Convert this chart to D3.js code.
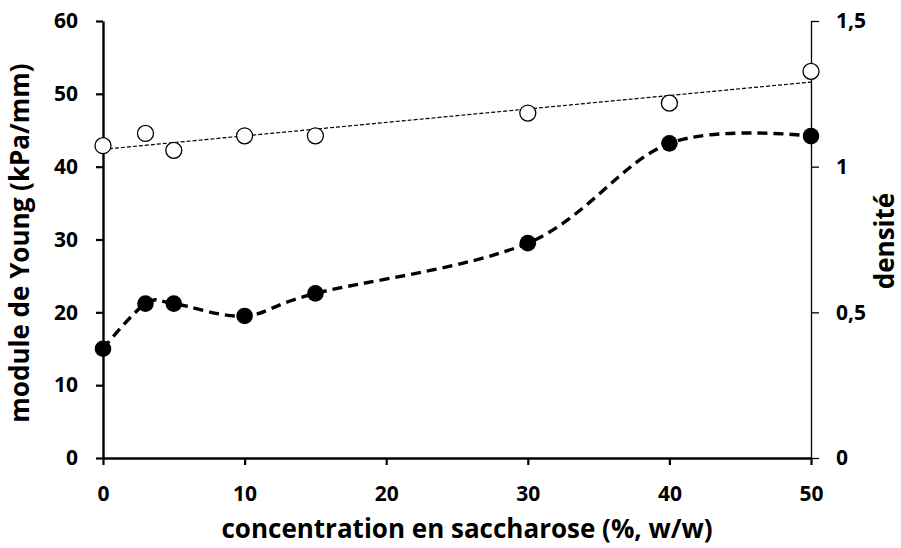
<!DOCTYPE html>
<html>
<head>
<meta charset="utf-8">
<script src="https://cdn.jsdelivr.net/npm/d3@7"></script>
<style>
  html, body { margin: 0; padding: 0; background: #fff; }
  svg { display: block; }
  text { font-family: "Open Sans", "Lato", sans-serif; font-weight: 700; fill: #000; }
</style>
</head>
<body>
<svg id="chart" width="901" height="548"></svg>
<script>
// Sucrose concentration (%, w/w)
const concentration = [0, 3, 5, 10, 15, 30, 40, 50];
// Young's modulus (kPa/mm)
const youngModulus = [15.0, 21.2, 21.2, 19.5, 22.6, 29.5, 43.2, 44.2];
// Density
const density = [1.072, 1.114, 1.056, 1.106, 1.106, 1.184, 1.218, 1.327];

const xTicks = [0, 10, 20, 30, 40, 50];
const yLeftTicks = [0, 10, 20, 30, 40, 50, 60];
const yRightTicks = [0, 0.5, 1, 1.5];
const yRightLabels = ["0", "0,5", "1", "1,5"];

const svg = d3.select("#chart");
const plotLeft = 103, plotRight = 811, plotTop = 21, plotBottom = 458;

const x = d3.scaleLinear().domain([0, 50]).range([plotLeft, plotRight]);
const yL = d3.scaleLinear().domain([0, 60]).range([plotBottom, plotTop]);
const yR = d3.scaleLinear().domain([0, 1.5]).range([plotBottom, plotTop]);

// Axes
const gx = svg.append("g").attr("transform", `translate(0,${plotBottom})`)
  .call(d3.axisBottom(x).tickValues(xTicks).tickSize(7).tickSizeOuter(0).tickPadding(21));
const gl = svg.append("g").attr("transform", `translate(${plotLeft},0)`)
  .call(d3.axisLeft(yL).tickValues(yLeftTicks).tickSize(7).tickSizeOuter(0).tickPadding(18));
const gr = svg.append("g").attr("transform", `translate(${plotRight},0)`)
  .call(d3.axisRight(yR).tickValues(yRightTicks).tickSize(8).tickSizeOuter(0).tickPadding(17)
    .tickFormat((d, i) => yRightLabels[i]));

[gx, gl].forEach(g => {
  g.select(".domain").attr("stroke", "#000").attr("stroke-width", 2.4);
  g.selectAll(".tick line").attr("stroke", "#000").attr("stroke-width", 2.2);
});
gr.select(".domain").attr("stroke", "#000").attr("stroke-width", 1.3);
gr.selectAll(".tick line").attr("stroke", "#000").attr("stroke-width", 1.3);
svg.selectAll(".tick text").attr("font-family", "'Open Sans', Lato, sans-serif")
  .attr("font-weight", 700).attr("font-size", 21).attr("fill", "#000");

// Axis titles
svg.append("text").attr("x", 467).attr("y", 538).attr("text-anchor", "middle")
  .attr("font-size", 26).text("concentration en saccharose (%, w/w)");
svg.append("text").attr("transform", "translate(29,243) rotate(-90)")
  .attr("text-anchor", "middle").attr("font-size", 26).text("module de Young (kPa/mm)");
svg.append("text").attr("transform", "translate(894,241) rotate(-90)")
  .attr("text-anchor", "middle").attr("font-size", 26).text("densité");

// Linear trend line of density (least squares)
const mx = d3.mean(concentration), my = d3.mean(density);
const slope = d3.sum(concentration, (c, i) => (c - mx) * (density[i] - my)) /
              d3.sum(concentration, c => (c - mx) ** 2);
const intercept = my - slope * mx;
svg.append("line")
  .attr("x1", x(0)).attr("y1", yR(intercept))
  .attr("x2", x(50)).attr("y2", yR(intercept + slope * 50))
  .attr("stroke", "#000").attr("stroke-width", 1.2).attr("stroke-dasharray", "4,2");

// Smoothed dashed line for Young's modulus
const youngPts = concentration.map((c, i) => [c, youngModulus[i]]);
svg.append("path")
  .attr("d", d3.line().x(d => x(d[0])).y(d => yL(d[1])).curve(d3.curveCardinal.tension(0))(youngPts))
  .attr("fill", "none").attr("stroke", "#000").attr("stroke-width", 3.4)
  .attr("stroke-dasharray", "10,6");

// Density markers (open circles)
svg.append("g").selectAll("circle").data(concentration).join("circle")
  .attr("cx", d => x(d)).attr("cy", (d, i) => yR(density[i])).attr("r", 8)
  .attr("fill", "#fff").attr("stroke", "#000").attr("stroke-width", 1.3);

// Young's modulus markers (filled circles)
svg.append("g").selectAll("circle").data(concentration).join("circle")
  .attr("cx", d => x(d)).attr("cy", (d, i) => yL(youngModulus[i])).attr("r", 8.3)
  .attr("fill", "#000");
</script>
</body>
</html>
